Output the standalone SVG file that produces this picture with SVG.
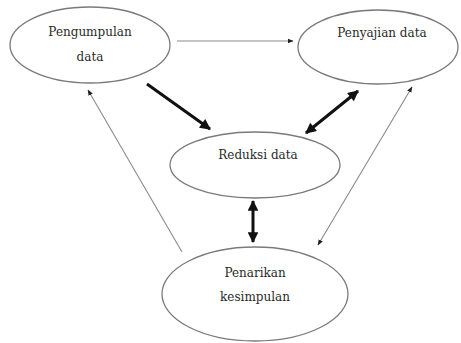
<svg xmlns="http://www.w3.org/2000/svg" width="461" height="343" viewBox="0 0 461 343">
<style>
.node ellipse{fill:#fff;stroke:#7a7a7a;stroke-width:1.3}
.node text{font-family:'DejaVu Serif','Liberation Serif',serif;font-size:12px;fill:#2a2a2a;text-anchor:middle}
.thin{stroke:#8a8a8a;stroke-width:1.1;fill:none}
.thick{stroke:#111;stroke-width:3;fill:none}
</style>
<defs>
<marker id="ah" viewBox="0 0 10 10" refX="9" refY="5" markerWidth="6" markerHeight="6" markerUnits="userSpaceOnUse" orient="auto-start-reverse">
<path d="M0,1 L10,5 L0,9 z" fill="#222"/>
</marker>
<marker id="ahk" viewBox="0 0 10 10" refX="9" refY="5" markerWidth="4" markerHeight="3.6" orient="auto-start-reverse">
<path d="M0,0 L10,5 L0,10 z" fill="#111"/>
</marker>
</defs>
<rect width="461" height="343" fill="#fff"/>
<g id="connectors">
<line class="thin" x1="177" y1="41" x2="293" y2="41" marker-end="url(#ah)"/>
<line class="thick" x1="147" y1="84" x2="210" y2="129" marker-end="url(#ahk)"/>
<line class="thick" x1="306" y1="133" x2="358" y2="91" marker-start="url(#ahk)" marker-end="url(#ahk)"/>
<line class="thin" x1="318" y1="245" x2="412" y2="87" marker-start="url(#ah)" marker-end="url(#ah)"/>
<line class="thin" x1="182" y1="252" x2="88" y2="90" marker-end="url(#ah)"/>
<line class="thick" x1="253" y1="201" x2="253" y2="242" marker-start="url(#ahk)" marker-end="url(#ahk)"/>
</g>
<g id="pengumpulan" class="node">
<ellipse cx="90" cy="45" rx="80" ry="38"/>
<text x="90" y="36">Pengumpulan</text>
<text x="90" y="61">data</text>
</g>
<g id="penyajian" class="node">
<ellipse cx="378" cy="47" rx="80" ry="37"/>
<text x="382" y="37">Penyajian data</text>
</g>
<g id="reduksi" class="node">
<ellipse cx="255" cy="165" rx="85" ry="33"/>
<text x="258" y="159">Reduksi data</text>
</g>
<g id="penarikan" class="node">
<ellipse cx="255" cy="294" rx="93" ry="47"/>
<text x="255" y="277">Penarikan</text>
<text x="255" y="301">kesimpulan</text>
</g>
</svg>
